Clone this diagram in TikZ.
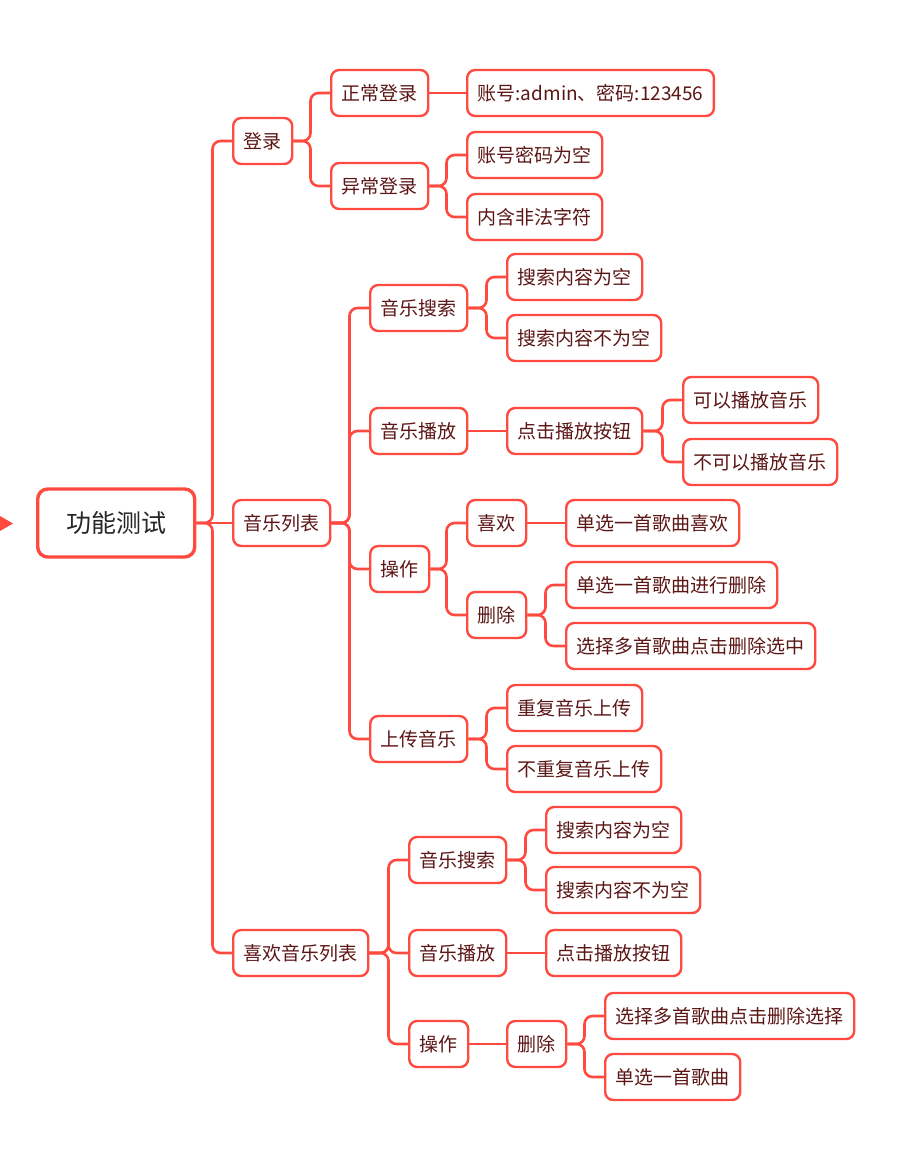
\documentclass[tikz,border=0pt]{standalone}
\usepackage{fontspec}
\setmainfont{Noto Sans CJK SC}
\usetikzlibrary{positioning}
\definecolor{mapred}{RGB}{255,74,64}
\definecolor{maptext}{RGB}{92,22,22}

\begin{document}
\begin{tikzpicture}[x=1pt, y=-1pt]
        \tikzset{topic/.style={rectangle, draw=mapred, line width=2.4pt, rounded corners=8pt, fill=white, text=maptext, font=\fontsize{19}{22}\selectfont, inner xsep=10.5pt, minimum height=46pt, anchor=west},
                 central/.style={topic, line width=3.4pt, text=black!85, font=\fontsize{25}{28}\selectfont, minimum height=68pt, minimum width=157pt, rounded corners=10pt},
                 link/.style={draw=mapred, line width=2.6pt, rounded corners=8pt}}
        \useasboundingbox (0,0) rectangle (908,1156);
        \fill[mapred] (0,516) -- (13,523.5) -- (0,531) -- cycle;
        \node[central] (root) at (36,523) {功能测试};
        % first level
        \node[topic] (login) at (232,141) {登录};
        \node[topic] (musiclist) at (232,523) {音乐列表};
        \node[topic] (favlist) at (232,953) {喜欢音乐列表};
        % login
        \node[topic] (normal) at (330,93) {正常登录};
        \node[topic] (abnormal) at (330,186) {异常登录};
        \node[topic] (account) at (466,93) {账号:admin、密码:123456};
        \node[topic] (emptypw) at (466,155) {账号密码为空};
        \node[topic] (illegal) at (466,217) {内含非法字符};
        % music list
        \node[topic] (search) at (369,308) {音乐搜索};
        \node[topic] (play) at (369,431) {音乐播放};
        \node[topic] (operate) at (369,569) {操作};
        \node[topic] (upload) at (369,739) {上传音乐};
        \node[topic] (searchempty) at (506,277) {搜索内容为空};
        \node[topic] (searchfull) at (506,338) {搜索内容不为空};
        \node[topic] (playbtn) at (506,431) {点击播放按钮};
        \node[topic] (canplay) at (682,400) {可以播放音乐};
        \node[topic] (cannotplay) at (682,462) {不可以播放音乐};
        \node[topic] (like) at (466,523) {喜欢};
        \node[topic] (delete) at (466,615) {删除};
        \node[topic] (likeone) at (565,523) {单选一首歌曲喜欢};
        \node[topic] (delone) at (565,585) {单选一首歌曲进行删除};
        \node[topic] (delmany) at (565,646) {选择多首歌曲点击删除选中};
        \node[topic] (dupup) at (506,708) {重复音乐上传};
        \node[topic] (nodupup) at (506,769) {不重复音乐上传};
        % favourite list
        \node[topic] (favsearch) at (408,860) {音乐搜索};
        \node[topic] (favplay) at (408,953) {音乐播放};
        \node[topic] (favoperate) at (408,1044) {操作};
        \node[topic] (favsearchempty) at (545,830) {搜索内容为空};
        \node[topic] (favsearchfull) at (545,890) {搜索内容不为空};
        \node[topic] (favplaybtn) at (545,953) {点击播放按钮};
        \node[topic] (favdelete) at (506,1044) {删除};
        \node[topic] (favdelmany) at (604,1016) {选择多首歌曲点击删除选择};
        \node[topic] (favdelone) at (604,1077) {单选一首歌曲};
        % branching connectors
        \foreach \p/\c in {root/login, root/favlist,
                login/normal, login/abnormal, abnormal/emptypw, abnormal/illegal,
                musiclist/search, musiclist/play, musiclist/operate, musiclist/upload,
                search/searchempty, search/searchfull, playbtn/canplay, playbtn/cannotplay,
                operate/like, operate/delete, delete/delone, delete/delmany,
                upload/dupup, upload/nodupup,
                favlist/favsearch, favlist/favplay, favlist/favoperate,
                favsearch/favsearchempty, favsearch/favsearchfull,
                favdelete/favdelmany, favdelete/favdelone}
            \draw[link] (\c.west) -- ++(-19.5,0) |- (\p.east);
        % straight connectors
        \foreach \p/\c in {root/musiclist, normal/account, play/playbtn, like/likeone,
                favplay/favplaybtn, favoperate/favdelete}
            \draw[link] (\p.east) -- (\c.west);
    \end{tikzpicture}
\end{document}
